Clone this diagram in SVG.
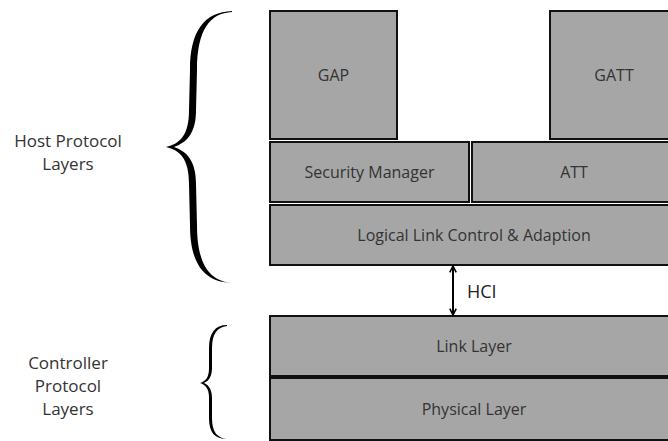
<svg xmlns="http://www.w3.org/2000/svg" width="668" height="441" viewBox="0 0 668 441">
<style>
.box{fill:#a6a6a6;stroke:#111;stroke-width:2}
.t{font-family:"Open Sans","Liberation Sans",sans-serif;font-size:16px;fill:#333;text-anchor:middle}
.lbl{font-family:"Open Sans","Liberation Sans",sans-serif;font-size:17px;fill:#333;text-anchor:middle}
.brace{fill:#000;stroke:none}
</style>
<defs>
<marker id="ah" viewBox="0 0 10 10" refX="9" refY="5" markerWidth="8" markerHeight="8" markerUnits="userSpaceOnUse" orient="auto-start-reverse">
<path d="M1,1 L9,5 L1,9" fill="none" stroke="#000" stroke-width="2"/>
</marker>
</defs>
<rect width="668" height="441" fill="#fff"/>

<g id="host-label">
<path class="brace" d="M232,11 C205,12 190,30 190,70 L189,110 C189,135 180,144 166,147 C180,150 189,159 189,184 L190,225 C190,265 205,282 232,283 C210,281 197,265 197,225 L196,184 C196,162 188,152 174,147 C188,142 196,132 196,110 L197,70 C197,30 210,13 232,12 Z"/>
<text class="lbl" x="68" y="147">Host Protocol</text>
<text class="lbl" x="68" y="170">Layers</text>
</g>
<g id="controller-label">
<path class="brace" d="M227,325 C215,325 209,333 209,348 L209,368 C209,377 206,381 200,383 C206,385 209,389 209,398 L209,418 C209,433 215,439 227,439 C217,438 212,432 212,418 L212,398 C212,390 209,385 204,383 C209,381 212,376 212,368 L212,348 C212,334 217,327 227,326 Z"/>
<text class="lbl" x="68" y="369">Controller</text>
<text class="lbl" x="68" y="392">Protocol</text>
<text class="lbl" x="68" y="415">Layers</text>
</g>

<g id="gap"><rect class="box" x="270" y="11" width="127" height="128"/><text class="t" x="333.5" y="81">GAP</text></g>
<g id="gatt"><rect class="box" x="550" y="11" width="128" height="128"/><text class="t" x="614" y="81">GATT</text></g>
<g id="sm"><rect class="box" x="270" y="142" width="199" height="60"/><text class="t" x="369.5" y="178">Security Manager</text></g>
<g id="att"><rect class="box" x="472" y="142" width="206" height="60"/><text class="t" x="574" y="178">ATT</text></g>
<g id="l2cap"><rect class="box" x="270" y="205" width="408" height="60"/><text class="t" x="474" y="241">Logical Link Control &amp; Adaption</text></g>
<g id="ll"><rect class="box" x="270" y="316" width="408" height="60"/><text class="t" x="474" y="352">Link Layer</text></g>
<g id="phy"><rect class="box" x="270" y="378" width="408" height="62"/><text class="t" x="474" y="415">Physical Layer</text></g>

<g id="connectors">
<line x1="453" y1="266" x2="453" y2="315" stroke="#000" stroke-width="2" marker-start="url(#ah)" marker-end="url(#ah)"/>
<text x="467" y="298" style="font-family:'Open Sans','Liberation Sans',sans-serif;font-size:18px;fill:#222">HCI</text>
</g>
</svg>
